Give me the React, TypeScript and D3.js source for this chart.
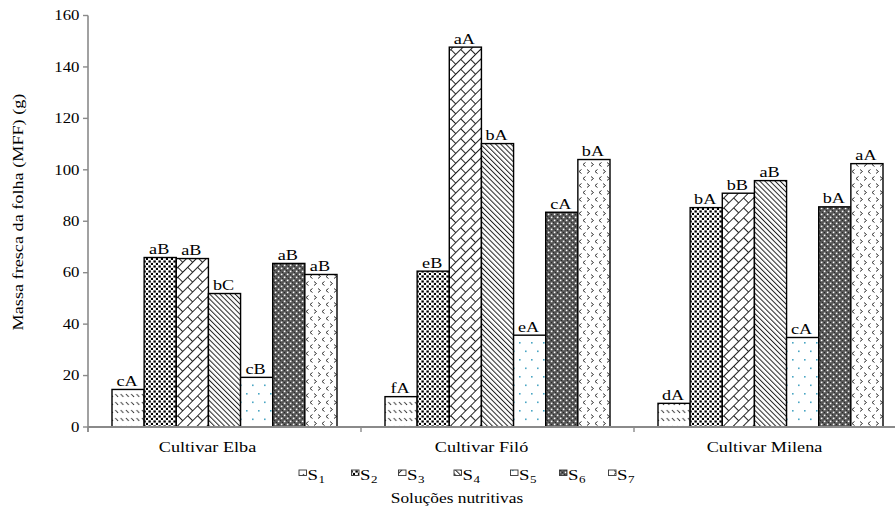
import React from "react";
import * as d3 from "d3";

const categories = ["Cultivar Elba", "Cultivar Filó", "Cultivar Milena"];
const series = ["S1", "S2", "S3", "S4", "S5", "S6", "S7"];
const valuesElba = [14.6, 65.9, 65.5, 51.9, 19.3, 63.6, 59.3];
const valuesFilo = [11.8, 60.6, 147.7, 110.2, 35.7, 83.5, 104.0];
const valuesMilena = [9.2, 85.3, 90.9, 95.8, 34.8, 85.6, 102.4];
const lettersElba = ["cA", "aB", "aB", "bC", "cB", "aB", "aB"];
const lettersFilo = ["fA", "eB", "aA", "bA", "eA", "cA", "bA"];
const lettersMilena = ["dA", "bA", "bB", "aB", "cA", "bA", "aA"];
const yTicks = [0, 20, 40, 60, 80, 100, 120, 140, 160];

const W = 895;
const H = 510;
const FONT = "'Liberation Serif', 'Times New Roman', serif";
const SX = 1.3;
const AXIS = "#8a8a8a";

const labelDx = [-17, -16, -6];
const legendX = [299, 351.5, 398.5, 454, 510.5, 559.5, 608.5];

function STxt({ x, y, anchor = "start", size = 14, children, sx = SX }: any) {
  return (
    <text
      transform={`translate(${x},${y}) scale(${sx},1)`}
      textAnchor={anchor}
      fontFamily={FONT}
      fontSize={size}
      fill="#000"
    >
      {children}
    </text>
  );
}

function Patterns() {
  return (
    <defs>
      {/* S1: short backslash dashes */}
      <pattern id="p0" patternUnits="userSpaceOnUse" width="5.3" height="8">
        <rect width="5.3" height="8" fill="#fff" />
        <line x1="0.8" y1="2" x2="3.6" y2="4.8" stroke="#333" strokeWidth="1" />
      </pattern>
      {/* S2: dense black squares */}
      <pattern id="p1" patternUnits="userSpaceOnUse" width="5" height="5">
        <rect width="5" height="5" fill="#fff" />
        <rect x="0.4" y="0.4" width="2.4" height="2.2" fill="#000" />
        <rect x="2.9" y="2.9" width="2.2" height="2.2" fill="#000" />
      </pattern>
      {/* S3: diagonal bricks */}
      <pattern
        id="p2"
        patternUnits="userSpaceOnUse"
        width="14"
        height="14"
        patternTransform="rotate(-45)"
      >
        <rect width="14" height="14" fill="#fff" />
        <line x1="0" y1="0.5" x2="14" y2="0.5" stroke="#222" strokeWidth="1" />
        <line x1="0" y1="7.5" x2="14" y2="7.5" stroke="#222" strokeWidth="1" />
        <line x1="0.5" y1="0.5" x2="0.5" y2="7.5" stroke="#222" strokeWidth="1" />
        <line x1="7.5" y1="7.5" x2="7.5" y2="14" stroke="#222" strokeWidth="1" />
      </pattern>
      {/* S4: backslash lines */}
      <pattern
        id="p3"
        patternUnits="userSpaceOnUse"
        width="3.6"
        height="10"
        patternTransform="rotate(-45)"
      >
        <rect width="3.6" height="10" fill="#fff" />
        <line x1="0.5" y1="0" x2="0.5" y2="10" stroke="#222" strokeWidth="1" />
      </pattern>
      {/* S5: sparse light blue dots */}
      <pattern id="p4" patternUnits="userSpaceOnUse" width="12" height="17">
        <rect width="12" height="17" fill="#fff" />
        <rect x="2" y="2" width="1.6" height="1.6" fill="#4aa6c4" />
        <rect x="8" y="10.5" width="1.6" height="1.6" fill="#4aa6c4" />
      </pattern>
      {/* S6: dark gray with white dots */}
      <pattern id="p5" patternUnits="userSpaceOnUse" width="6" height="6">
        <rect width="6" height="6" fill="#555" />
        <rect x="0" y="0" width="1" height="1" fill="#2a2a2a" />
        <rect x="2" y="2" width="1" height="1" fill="#2a2a2a" />
        <rect x="4" y="4" width="1" height="1" fill="#2a2a2a" />
        <rect x="0.8" y="3.6" width="1.6" height="1.6" fill="#fff" />
        <rect x="3.8" y="0.6" width="1.6" height="1.6" fill="#fff" />
      </pattern>
      {/* S7: chevrons */}
      <pattern id="p6" patternUnits="userSpaceOnUse" width="16" height="14">
        <rect width="16" height="14" fill="#fff" />
        <path d="M2,1.5 L4.5,3.5 L2,5.5" fill="none" stroke="#333" strokeWidth="1" />
        <path d="M12.5,1.5 L10,3.5 L12.5,5.5" fill="none" stroke="#333" strokeWidth="1" />
        <path d="M6,8.5 L8.5,10.5 L6,12.5" fill="none" stroke="#333" strokeWidth="1" />
        <path d="M16.5,8.5 L14,10.5 L16.5,12.5" fill="none" stroke="#333" strokeWidth="1" />
        <path d="M0.5,8.5 L-2,10.5 L0.5,12.5" fill="none" stroke="#333" strokeWidth="1" />
      </pattern>
    </defs>
  );
}

export default function App() {
  const allValues = [valuesElba, valuesFilo, valuesMilena];
  const allLetters = [lettersElba, lettersFilo, lettersMilena];

  const x0 = d3.scaleBand<string>().domain(categories).range([88, 88 + 3 * 273]).padding(0);
  const bw = x0.bandwidth();
  const x1 = d3.scaleBand<string>().domain(series).range([24, bw - 24]).padding(0);
  const y = d3.scaleLinear().domain([0, 160]).range([427, 15.5]);

  return (
    <svg
      width={W}
      height={H}
      style={{ position: "absolute", left: 0, top: 0, background: "#fff" }}
    >
      <Patterns />
      <rect width={W} height={H} fill="#fff" />

      {/* bars */}
      {categories.map((c, ci) => (
        <g key={c} transform={`translate(${x0(c)},0)`}>
          {series.map((s, si) => {
            const v = allValues[ci][si];
            const bx = x1(s)!;
            return (
              <g key={s}>
                <rect
                  x={bx}
                  y={y(v)}
                  width={x1.bandwidth()}
                  height={y(0) - y(v)}
                  fill={`url(#p${si})`}
                  stroke="#000"
                  strokeWidth={1.4}
                />
                <STxt x={bx + x1.bandwidth() / 2 - 1} y={y(v) - 3.5} anchor="middle" size={14}>
                  {allLetters[ci][si]}
                </STxt>
              </g>
            );
          })}
        </g>
      ))}

      {/* y axis */}
      <line x1={88} x2={88} y1={y(160)} y2={432} stroke={AXIS} strokeWidth={1.6} />
      {yTicks.map((t) => (
        <g key={t}>
          <line x1={83} x2={88} y1={y(t)} y2={y(t)} stroke={AXIS} strokeWidth={1.4} />
          <STxt x={79.5} y={y(t) + 4.8} anchor="end" size={14} sx={1.2}>
            {t}
          </STxt>
        </g>
      ))}

      {/* x axis */}
      <line x1={88} x2={W} y1={y(0)} y2={y(0)} stroke={AXIS} strokeWidth={2} />
      {categories.map((c) => (
        <line key={c} x1={x0(c)!} x2={x0(c)!} y1={y(0)} y2={y(0) + 5} stroke={AXIS} strokeWidth={1.4} />
      ))}
      {categories.map((c, ci) => (
        <STxt key={c} x={x0(c)! + bw / 2 + labelDx[ci]} y={452} anchor="middle" size={14}>
          {c}
        </STxt>
      ))}

      {/* y title */}
      <text
        transform={`translate(22.5,212) rotate(-90) scale(${SX},1)`}
        textAnchor="middle"
        fontFamily={FONT}
        fontSize={14}
        fill="#000"
      >
        Massa fresca da folha (MFF) (g)
      </text>

      {/* legend */}
      {series.map((s, si) => (
        <g key={s}>
          <rect
            x={legendX[si]}
            y={470}
            width={7.5}
            height={5.5}
            fill={`url(#p${si})`}
            stroke="#333"
            strokeWidth={0.9}
          />
          <STxt x={legendX[si] + 8.5} y={479.5} size={14.5} sx={1.3}>
            S
          </STxt>
          <STxt x={legendX[si] + 19.5} y={483} size={10} sx={1.3}>
            {s.slice(1)}
          </STxt>
        </g>
      ))}

      <STxt x={457} y={503} anchor="middle" size={14} sx={1.24}>
        Soluções nutritivas
      </STxt>
    </svg>
  );
}
